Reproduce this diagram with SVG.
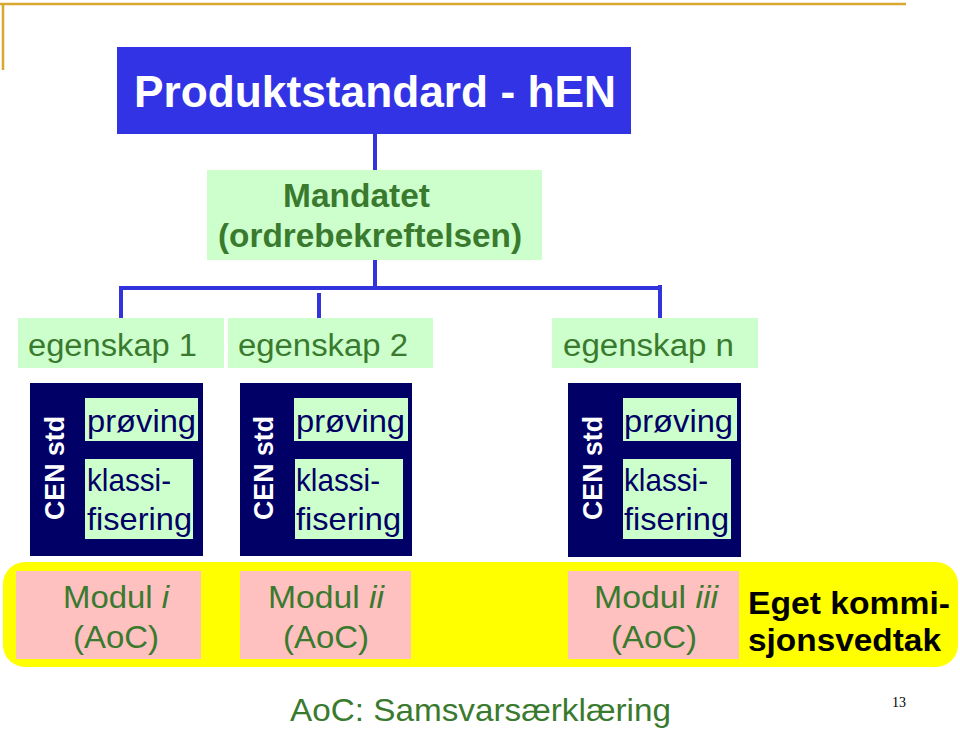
<svg xmlns="http://www.w3.org/2000/svg" width="960" height="730" viewBox="0 0 960 730">
<style>
text{font-family:"Liberation Sans",Arial,sans-serif}
.g{fill:#3a7a2e}
.lg{fill:#ccffcc}
.nv{fill:#000066}
.pk{fill:#ffc0c0}
.conn{stroke:#3333dd;stroke-width:4;fill:none}
.eg{font-size:31px}
.nt{font-size:32px;fill:#000066}
.cen{font-size:27px;font-weight:bold;fill:#fff}
.mod{font-size:31px}
</style>
<rect width="960" height="730" fill="#fff"/>
<g id="frame">
<path d="M0 4H906M3 4V70" stroke="#d8a830" stroke-width="2.5" fill="none"/>
</g>
<g id="title">
<rect x="117" y="47" width="514" height="87" fill="#3333e6"/>
<text x="134" y="107" font-size="44" font-weight="bold" fill="#fff" textLength="482" lengthAdjust="spacingAndGlyphs">Produktstandard - hEN</text>
</g>
<g id="connectors">
<path class="conn" d="M375 134V170M375 260V288M119 288H662M121 288V318M319 293V318M660 285V318"/>
</g>
<g id="mandatet">
<rect x="207" y="170" width="335" height="90" class="lg"/>
<text x="283" y="207" font-size="33" font-weight="bold" class="g" textLength="147" lengthAdjust="spacingAndGlyphs">Mandatet</text>
<text x="218" y="247" font-size="33" font-weight="bold" class="g" textLength="304" lengthAdjust="spacingAndGlyphs">(ordrebekreftelsen)</text>
</g>
<g id="egenskap1">
<rect x="18" y="318" width="206" height="50" class="lg"/>
<text x="28" y="356" class="eg g" textLength="169" lengthAdjust="spacingAndGlyphs">egenskap 1</text>
</g>
<g id="egenskap2">
<rect x="228" y="318" width="205" height="50" class="lg"/>
<text x="238" y="356" class="eg g" textLength="170" lengthAdjust="spacingAndGlyphs">egenskap 2</text>
</g>
<g id="egenskapn">
<rect x="552" y="318" width="206" height="50" class="lg"/>
<text x="563" y="356" class="eg g" textLength="171" lengthAdjust="spacingAndGlyphs">egenskap n</text>
</g>
<g id="cen1">
<rect x="30" y="383" width="173" height="173" class="nv"/>
<text transform="translate(64 468) rotate(-90)" text-anchor="middle" class="cen" textLength="104" lengthAdjust="spacingAndGlyphs">CEN std</text>
<rect x="85" y="398" width="113" height="43" class="lg"/>
<text x="87" y="432" class="nt" textLength="109" lengthAdjust="spacingAndGlyphs">prøving</text>
<rect x="85" y="459" width="108" height="80" class="lg"/>
<text x="87" y="491" class="nt" textLength="84" lengthAdjust="spacingAndGlyphs">klassi-</text>
<text x="87" y="530" class="nt" textLength="105" lengthAdjust="spacingAndGlyphs">fisering</text>
</g>
<g id="cen2">
<rect x="240" y="383" width="172" height="173" class="nv"/>
<text transform="translate(273 468) rotate(-90)" text-anchor="middle" class="cen" textLength="104" lengthAdjust="spacingAndGlyphs">CEN std</text>
<rect x="294" y="398" width="114" height="43" class="lg"/>
<text x="296" y="432" class="nt" textLength="109" lengthAdjust="spacingAndGlyphs">prøving</text>
<rect x="295" y="459" width="108" height="80" class="lg"/>
<text x="296" y="491" class="nt" textLength="84" lengthAdjust="spacingAndGlyphs">klassi-</text>
<text x="296" y="530" class="nt" textLength="105" lengthAdjust="spacingAndGlyphs">fisering</text>
</g>
<g id="cen3">
<rect x="568" y="383" width="173" height="174" class="nv"/>
<text transform="translate(602 468) rotate(-90)" text-anchor="middle" class="cen" textLength="104" lengthAdjust="spacingAndGlyphs">CEN std</text>
<rect x="623" y="398" width="114" height="43" class="lg"/>
<text x="624" y="432" class="nt" textLength="109" lengthAdjust="spacingAndGlyphs">prøving</text>
<rect x="623" y="459" width="108" height="80" class="lg"/>
<text x="624" y="491" class="nt" textLength="84" lengthAdjust="spacingAndGlyphs">klassi-</text>
<text x="624" y="530" class="nt" textLength="105" lengthAdjust="spacingAndGlyphs">fisering</text>
</g>
<g id="band">
<rect x="3" y="562" width="955" height="105" rx="22" fill="#ffff00"/>
</g>
<g id="modul1">
<rect x="16" y="571" width="185" height="88" class="pk"/>
<text x="63" y="608" class="mod g" textLength="106" lengthAdjust="spacingAndGlyphs">Modul <tspan font-style="italic">i</tspan></text>
<text x="73" y="648" class="mod g" textLength="86" lengthAdjust="spacingAndGlyphs">(AoC)</text>
</g>
<g id="modul2">
<rect x="240" y="571" width="171" height="88" class="pk"/>
<text x="268" y="608" class="mod g" textLength="116" lengthAdjust="spacingAndGlyphs">Modul <tspan font-style="italic">ii</tspan></text>
<text x="283" y="648" class="mod g" textLength="86" lengthAdjust="spacingAndGlyphs">(AoC)</text>
</g>
<g id="modul3">
<rect x="568" y="571" width="171" height="88" class="pk"/>
<text x="594" y="608" class="mod g" textLength="124" lengthAdjust="spacingAndGlyphs">Modul <tspan font-style="italic">iii</tspan></text>
<text x="611" y="648" class="mod g" textLength="86" lengthAdjust="spacingAndGlyphs">(AoC)</text>
</g>
<g id="eget">
<text x="748" y="614" font-size="32" font-weight="bold" fill="#000" textLength="202" lengthAdjust="spacingAndGlyphs">Eget kommi-</text>
<text x="748" y="651" font-size="32" font-weight="bold" fill="#000" textLength="193" lengthAdjust="spacingAndGlyphs">sjonsvedtak</text>
</g>
<g id="legend">
<text x="290" y="721" font-size="32" class="g" textLength="381" lengthAdjust="spacingAndGlyphs">AoC: Samsvarsærklæring</text>
<text x="892" y="707" font-size="14" fill="#000" style="font-family:'Liberation Serif',serif">13</text>
</g>
</svg>
